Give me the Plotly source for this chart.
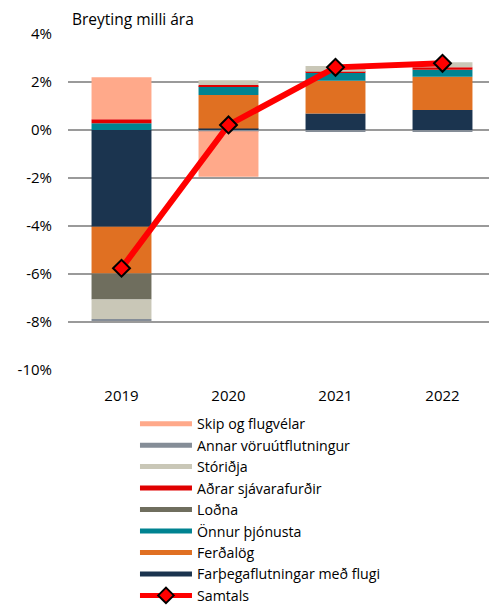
import plotly.graph_objects as go

years = ["2019", "2020", "2021", "2022"]

skip_flugvelar = [1.75, -1.9, 0.0, 0.0]
annar_voruutfl = [-0.07, -0.05, -0.05, -0.05]
storidja = [-0.83, 0.20, 0.24, 0.21]
adrar_sjavarafurdir = [0.17, 0.05, 0.05, 0.10]
lodna = [-1.08, 0.0, 0.0, 0.0]
onnur_thjonusta = [0.28, 0.36, 0.33, 0.29]
ferdalog = [-1.95, 1.40, 1.36, 1.39]
farthegaflutningar = [-4.03, 0.06, 0.69, 0.83]
samtals = [-5.76, 0.21, 2.61, 2.78]

y_ticks = [4, 2, 0, -2, -4, -6, -8, -10]
y_tick_labels = ["4%", "2%", "0%", "-2%", "-4%", "-6%", "-8%", "-10%"]

series = [
    ("Farþegaflutningar með flugi", farthegaflutningar, "#1B344F"),
    ("Ferðalög", ferdalog, "#E07022"),
    ("Önnur þjónusta", onnur_thjonusta, "#008391"),
    ("Loðna", lodna, "#6F6E5E"),
    ("Aðrar sjávarafurðir", adrar_sjavarafurdir, "#E00000"),
    ("Stóriðja", storidja, "#C9C7B7"),
    ("Annar vöruútflutningur", annar_voruutfl, "#858D97"),
    ("Skip og flugvélar", skip_flugvelar, "#FFA98A"),
]

FONT = "Open Sans, Liberation Sans, sans-serif"

fig = go.Figure()
for name, vals, col in series:
    fig.add_trace(go.Bar(
        x=years, y=vals, name=name, marker=dict(color=col, line=dict(width=0)),
        showlegend=False, legendgroup=name,
    ))

# legend entries (wide swatches), in reference order
for name, vals, col in reversed(series):
    fig.add_trace(go.Scatter(
        x=[None], y=[None], mode="lines", name=name, legendgroup=name,
        line=dict(color=col, width=10), showlegend=True,
    ))

fig.add_trace(go.Scatter(
    x=years, y=samtals, name="Samtals", mode="lines+markers",
    line=dict(color="#FF0000", width=6),
    marker=dict(symbol="diamond", size=13, color="#FF0000",
                line=dict(color="#000000", width=2)),
))

fig.update_layout(
    width=489, height=598,
    margin=dict(l=60, r=1, t=26, b=236, autoexpand=False),
    barmode="relative", bargap=0.44,
    plot_bgcolor="white", paper_bgcolor="white",
    font=dict(family=FONT, size=15, color="#000000"),
    legend=dict(
        orientation="v", x=0.1565, xanchor="left", y=-0.113, yanchor="top",
        font=dict(size=14.2), tracegroupgap=0, bgcolor="rgba(0,0,0,0)",
        traceorder="normal", itemsizing="constant", itemwidth=52,
    ),
    annotations=[dict(
        text="Breyting milli ára", xref="paper", yref="paper",
        x=0.0, y=1.0, xanchor="left", yanchor="middle", xshift=2, yshift=15,
        showarrow=False, font=dict(size=15.5, family=FONT),
    )],
)
fig.update_xaxes(showgrid=False, showline=False, ticks="", tickfont=dict(size=15),
                 ticklabelstandoff=15)
fig.update_yaxes(
    range=[-10, 4], tickvals=y_ticks, ticktext=y_tick_labels,
    showgrid=True, gridcolor="#9A9A9A", gridwidth=1.5,
    zeroline=False, showline=False, ticks="", ticklabelstandoff=15,
    tickfont=dict(size=15),
)

fig.write_html("out.html")
